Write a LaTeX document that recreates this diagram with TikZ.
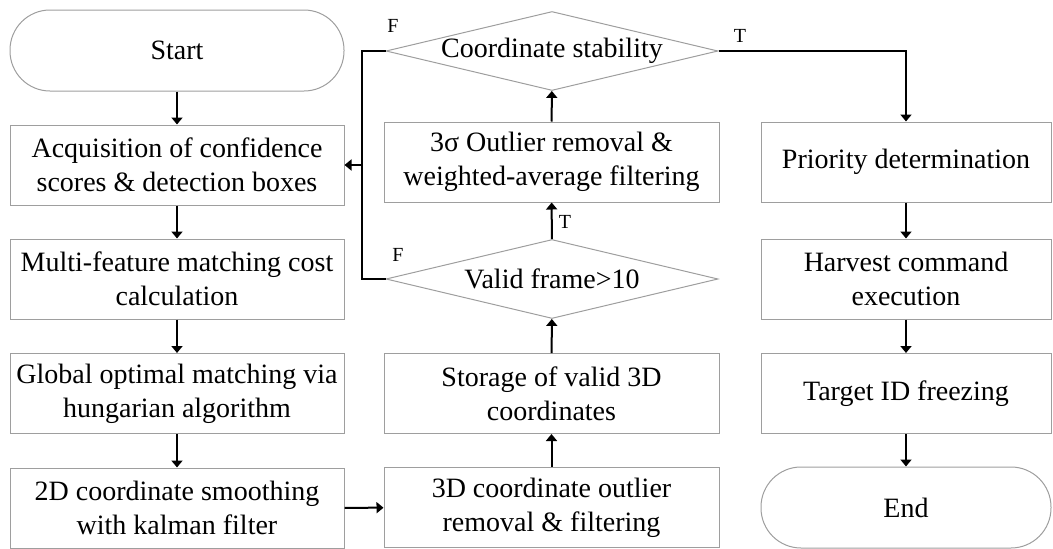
\documentclass[tikz,border=0pt]{standalone}
\usepackage{fontspec}
\setmainfont{Liberation Serif}
\usetikzlibrary{shapes.geometric,arrows.meta}

\tikzset{
  box/.style={draw=black!38, line width=1pt, rectangle, minimum height=80pt,
    inner sep=0pt, align=center, font=\fontsize{28}{34}\selectfont},
  term/.style={box, rounded corners=40pt, minimum height=81pt},
  decision/.style={draw=black!38, line width=1pt, diamond, inner sep=0pt,
    minimum width=332pt, minimum height=79pt, font=\fontsize{28}{34}\selectfont},
  flow/.style={draw=black, line width=2pt, -{Triangle[width=11pt,length=7pt]}},
  link/.style={draw=black, line width=2pt},
  tag/.style={font=\fontsize{20}{22}\selectfont, inner sep=0pt},
}

\begin{document}
\begin{tikzpicture}[x=1pt,y=-1pt]
\useasboundingbox (0,0) rectangle (1053,549);

% left column
\node[term, minimum width=334pt] (start) at (177,50.5) {Start};
\node[box, minimum width=334pt] (acq) at (177,165) {Acquisition of confidence\\scores \& detection boxes};
\node[box, minimum width=334pt] (cost) at (177,279) {Multi-feature matching cost\\calculation};
\node[box, minimum width=334pt] (hung) at (177,393.5) {Global optimal matching via\\hungarian algorithm};
\node[box, minimum width=334pt] (kal) at (177,508) {2D coordinate smoothing\\with kalman filter};

% middle column
\node[decision] (stab) at (552,51) {\makebox[0pt]{Coordinate stability}};
\node[box, minimum width=335pt] (sig) at (551.5,162) {3σ Outlier removal \&\\weighted-average filtering};
\node[decision] (valid) at (552,279) {\makebox[0pt]{Valid frame>10}};
\node[box, minimum width=335pt] (store) at (551.5,393.5) {Storage of valid 3D\\coordinates};
\node[box, minimum width=335pt] (out3d) at (551.5,507.5) {3D coordinate outlier\\removal \& filtering};

% right column
\node[box, minimum width=290pt] (prio) at (906,162) {Priority determination};
\node[box, minimum width=290pt] (harv) at (906,279) {Harvest command\\execution};
\node[box, minimum width=290pt] (freeze) at (906,393.5) {Target ID freezing};
\node[term, minimum width=290pt] (end) at (906,507.5) {End};

% main flow
\draw[flow] (start) -- (acq);
\draw[flow] (acq) -- (cost);
\draw[flow] (cost) -- (hung);
\draw[flow] (hung) -- (kal);
\draw[flow] (kal) -- (out3d);
\draw[flow] (out3d) -- (store);
\draw[flow] (store) -- (valid);
\draw[flow] (valid) -- (sig);
\draw[flow] (sig) -- (stab);
\draw[flow] (prio) -- (harv);
\draw[flow] (harv) -- (freeze);
\draw[flow] (freeze) -- (end);

% branches
\coordinate (rail) at (362,165);
\draw[link] (valid.west) -| (rail);
\draw[flow] (stab.west) -| (rail) -- (acq.east);
\draw[flow] (stab.east) -| (prio.north);

% branch labels
\node[tag] (fstab) at (393,26) {F};
\node[tag] (tstab) at (740,36) {T};
\node[tag] (fvalid) at (398,255) {F};
\node[tag] (tvalid) at (565,222) {T};
\end{tikzpicture}
\end{document}
